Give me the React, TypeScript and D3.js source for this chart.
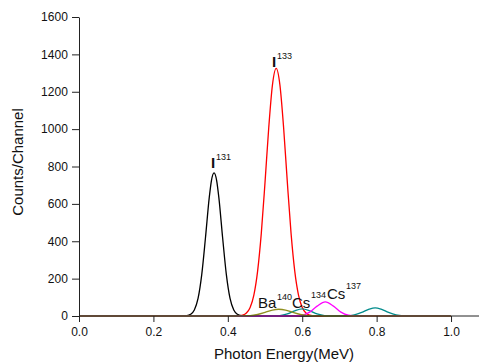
import { useEffect, useRef } from "react";
import * as d3 from "d3";

// readings (energy in MeV, counts/channel)
const i131 = [
  [0, 0], [0.27, 0], [0.29, 2], [0.3, 9], [0.31, 32], [0.32, 94], [0.33, 223],
  [0.34, 420], [0.35, 632], [0.356, 725], [0.363, 766], [0.37, 725], [0.376, 632],
  [0.386, 420], [0.396, 223], [0.406, 94], [0.416, 32], [0.426, 9], [0.436, 2],
  [0.45, 0], [1.0, 0],
];
const i133 = [
  [0, 0], [0.42, 0], [0.44, 5], [0.45, 16], [0.46, 46], [0.47, 112], [0.48, 239],
  [0.49, 442], [0.5, 715], [0.51, 1007], [0.52, 1237], [0.53, 1325], [0.54, 1237],
  [0.55, 1007], [0.56, 715], [0.57, 442], [0.58, 239], [0.59, 112], [0.6, 46],
  [0.61, 16], [0.62, 5], [0.64, 0], [1.0, 0],
];
const cs134 = [
  [0, 0], [0.52, 0], [0.54, 2], [0.56, 11], [0.58, 28], [0.6, 38], [0.62, 28],
  [0.64, 11], [0.66, 2], [0.68, 0], [0.72, 1], [0.74, 6], [0.76, 19], [0.78, 37],
  [0.796, 44], [0.812, 37], [0.832, 19], [0.852, 6], [0.872, 1], [0.89, 0], [1.0, 0],
];
const cs137 = [
  [0, 0], [0.58, 0], [0.6, 4], [0.62, 21], [0.64, 53], [0.662, 76], [0.684, 53],
  [0.704, 21], [0.724, 4], [0.744, 0], [1.0, 0],
];
const ba140 = [
  [0, 0], [0.42, 0], [0.44, 1], [0.46, 2], [0.48, 8], [0.5, 19], [0.52, 32],
  [0.537, 36], [0.555, 32], [0.575, 19], [0.595, 8], [0.615, 2], [0.635, 1],
  [0.66, 0], [1.0, 0],
];

const xTicks = [0, 0.2, 0.4, 0.6, 0.8, 1.0];
const yTicks = [0, 200, 400, 600, 800, 1000, 1200, 1400, 1600];

// label text with its anchor in data coordinates
const labels = [
  { text: "I", x: 0.361, y: 792, big: true, anchor: "middle" },
  { text: "131", x: 0.368, y: 837, big: false, anchor: "start" },
  { text: "I", x: 0.524, y: 1332, big: true, anchor: "middle" },
  { text: "133", x: 0.531, y: 1373, big: false, anchor: "start" },
  { text: "Ba", x: 0.481, y: 43, big: true, anchor: "start" },
  { text: "140", x: 0.531, y: 86, big: false, anchor: "start" },
  { text: "Cs", x: 0.572, y: 43, big: true, anchor: "start" },
  { text: "134", x: 0.624, y: 94, big: false, anchor: "start" },
  { text: "Cs", x: 0.667, y: 91, big: true, anchor: "start" },
  { text: "137", x: 0.718, y: 142, big: false, anchor: "start" },
];

const SERIES = [
  { data: i131, color: "#000000" },
  { data: i133, color: "#ff0000" },
  { data: cs134, color: "#008b8b" },
  { data: cs137, color: "#ff00ff" },
  { data: ba140, color: "#8f8f1f" },
];

const W = 479;
const H = 363;
const FONT = "Liberation Sans, Arial, sans-serif";

const App = () => {
  const svgRef = useRef(null);

  useEffect(() => {
    const svg = d3.select(svgRef.current);
    svg.selectAll("*").remove();

    const xScale = d3.scaleLinear().domain([0, 1.08]).range([79, 480.8]);
    const yScale = d3.scaleLinear().domain([0, 1600]).range([316, 17]);

    // curves
    const line = d3
      .line()
      .x((d) => xScale(d[0]))
      .y((d) => yScale(d[1]))
      .curve(d3.curveMonotoneX);

    SERIES.forEach((s) => {
      svg
        .append("path")
        .attr("d", line(s.data))
        .attr("fill", "none")
        .attr("stroke", s.color)
        .attr("stroke-width", 1.3);
    });

    // x axis with minor ticks
    const gx = svg.append("g").attr("transform", `translate(0,${yScale(0)})`);
    gx.call(
      d3.axisBottom(xScale).tickValues(d3.range(0.1, 1.0, 0.2)).tickSize(4).tickFormat(() => "")
    );
    gx.call(
      d3.axisBottom(xScale).tickValues(xTicks).tickSize(6).tickSizeOuter(0).tickFormat(d3.format(".1f"))
    );
    gx.selectAll("path.domain").attr("d", `M79,0H${W}`);

    // y axis with minor ticks
    const gy = svg.append("g").attr("transform", `translate(${xScale(0)},0)`);
    gy.call(
      d3.axisLeft(yScale).tickValues(d3.range(100, 1600, 200)).tickSize(4).tickFormat(() => "")
    );
    gy.call(
      d3.axisLeft(yScale).tickValues(yTicks).tickSize(7).tickSizeOuter(0).tickFormat(d3.format("d"))
    );

    svg.selectAll(".domain, .tick line").attr("stroke", "#222").attr("stroke-width", 1);
    gx.selectAll("text").attr("font-size", 12).attr("font-family", FONT).attr("fill", "#111").attr("dy", "0.9em");
    gy.selectAll("text").attr("font-size", 12).attr("font-family", FONT).attr("fill", "#111").attr("dx", "-0.1em");

    // axis titles
    svg
      .append("text")
      .attr("x", 284)
      .attr("y", 359)
      .attr("text-anchor", "middle")
      .attr("font-size", 15)
      .attr("font-family", FONT)
      .attr("fill", "#111")
      .text("Photon Energy(MeV)");

    svg
      .append("text")
      .attr("transform", "rotate(-90)")
      .attr("x", -162)
      .attr("y", 22.5)
      .attr("text-anchor", "middle")
      .attr("font-size", 15)
      .attr("font-family", FONT)
      .attr("fill", "#111")
      .text("Counts/Channel");

    // peak labels
    labels.forEach((l) => {
      svg
        .append("text")
        .attr("x", Math.round(xScale(l.x)))
        .attr("y", yScale(l.y))
        .attr("text-anchor", l.anchor)
        .attr("font-size", l.big ? 15 : 9)
        .attr("font-weight", l.text === "I" ? "bold" : "normal")
        .attr("font-family", FONT)
        .attr("fill", "#111")
        .text(l.text);
    });
  }, []);

  return (
    <svg
      ref={svgRef}
      width={W}
      height={H}
      style={{ position: "absolute", left: 0, top: 0, background: "#fff" }}
    ></svg>
  );
};

export default App;
